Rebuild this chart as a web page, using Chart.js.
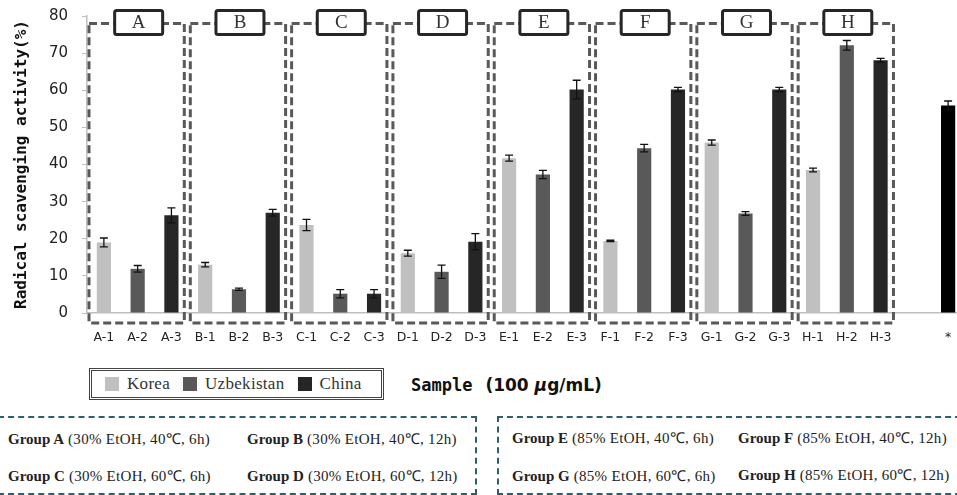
<!DOCTYPE html>
<html>
<head>
<meta charset="utf-8">
<script src="https://cdn.jsdelivr.net/npm/chart.js@4"></script>
<style>
  html, body { margin: 0; padding: 0; background: #fff; overflow: hidden; width: 957px; height: 495px; }
  #wrap { position: relative; width: 957px; height: 495px; overflow: hidden; }
  #chart { position: absolute; left: 0; top: 0; }
  .legend { position: absolute; left: 89px; top: 368px; width: 289px; height: 26px; border: 3px double #444;
            display: flex; align-items: center; font: 17px "Liberation Serif", serif; color: #333; letter-spacing: 0.3px; }
  .legend span.sw { display: inline-block; width: 14px; height: 14px; margin: 0 8px 0 13px; }
  .xtitle { position: absolute; left: 411px; top: 375px; font: bold 17px "DejaVu Sans Mono", monospace; color: #111; white-space: nowrap; }
  .xtitle b { font-family: "DejaVu Sans", sans-serif; margin-left: 13px; }
  .gbox { position: absolute; top: 416px; height: 75px; border: 2px dashed #2d5f6e; }
  .gtxt { position: absolute; font: 15px "Liberation Serif", serif; color: #222; white-space: nowrap; letter-spacing: 0.3px; }
  .gtxt b { letter-spacing: 0; }
</style>
</head>
<body>
<div id="wrap">
  <canvas id="chart" width="965" height="350"></canvas>
  <div class="legend" id="legend"></div>
  <div class="xtitle">Sample<b>(100 <i>μ</i>g/mL)</b></div>
  <div class="gbox" style="left:-2px;width:475px"></div>
  <div class="gbox" style="left:497px;width:480px"></div>
  <div id="groupText"></div>
</div>
<script>
// sample labels, one bar each; '' is the empty gap before the control (*)
const samples = ['A-1','A-2','A-3','B-1','B-2','B-3','C-1','C-2','C-3','D-1','D-2','D-3',
                 'E-1','E-2','E-3','F-1','F-2','F-3','G-1','G-2','G-3','H-1','H-2','H-3'];
const activity = [19.0, 11.9, 26.3, 13.0, 6.4, 27.0, 23.7, 5.2, 5.2, 16.1, 11.1, 19.2,
                  41.7, 37.3, 60.2, 19.4, 44.4, 60.2, 45.9, 26.8, 60.2, 38.5, 72.1, 68.1];
const errors = [1.2, 0.9, 2.0, 0.6, 0.3, 0.9, 1.5, 1.1, 1.1, 0.8, 1.8, 2.2,
                0.8, 1.1, 2.5, 0.2, 1.0, 0.6, 0.7, 0.5, 0.6, 0.5, 1.3, 0.5];
const controlLabel = '*';
const controlValue = 55.9;
const controlError = 1.2;
const countries = ['Korea', 'Uzbekistan', 'China'];
const groups = ['A','B','C','D','E','F','G','H'];
const conditions = ['30% EtOH, 40℃, 6h', '30% EtOH, 40℃, 12h', '30% EtOH, 60℃, 6h', '30% EtOH, 60℃, 12h',
                    '85% EtOH, 40℃, 6h', '85% EtOH, 40℃, 12h', '85% EtOH, 60℃, 6h', '85% EtOH, 60℃, 12h'];
const yTicks = [0, 10, 20, 30, 40, 50, 60, 70, 80];

const colors = ['#c0c0c0', '#595959', '#262626'];
const labels = samples.concat(['', controlLabel]);

const datasets = countries.map((name, c) => ({
  label: name,
  data: labels.map((l, i) => (i < samples.length && i % 3 === c) ? activity[i] : null),
  err: labels.map((l, i) => (i < samples.length && i % 3 === c) ? errors[i] : null),
  backgroundColor: colors[c]
}));
datasets.push({
  label: 'control',
  data: labels.map((l, i) => l === controlLabel ? controlValue : null),
  err: labels.map((l, i) => l === controlLabel ? controlError : null),
  backgroundColor: '#000'
});

// html legend + group descriptions
document.getElementById('legend').innerHTML = countries.map((n, c) =>
  `<span class="sw" style="background:${colors[c]}"></span>${n}`).join('');
const gpos = [[8, 428], [247, 428], [8, 465], [247, 465], [512, 427], [738, 427], [512, 465], [738, 464]];
document.getElementById('groupText').innerHTML = groups.map((g, i) =>
  `<div class="gtxt" style="left:${gpos[i][0]}px;top:${gpos[i][1]}px"><b>Group ${g}</b> (${conditions[i]})</div>`).join('');

const errorBars = {
  id: 'errorBars',
  afterDatasetsDraw(chart) {
    const ctx = chart.ctx, y = chart.scales.y;
    ctx.save();
    ctx.strokeStyle = '#111';
    ctx.lineWidth = 1.3;
    chart.data.datasets.forEach((ds, di) => {
      chart.getDatasetMeta(di).data.forEach((bar, i) => {
        if (ds.data[i] == null) return;
        const hi = y.getPixelForValue(ds.data[i] + ds.err[i]);
        const lo = y.getPixelForValue(ds.data[i] - ds.err[i]);
        ctx.beginPath();
        ctx.moveTo(bar.x, hi); ctx.lineTo(bar.x, lo);
        ctx.moveTo(bar.x - 4, hi); ctx.lineTo(bar.x + 4, hi);
        ctx.moveTo(bar.x - 4, lo); ctx.lineTo(bar.x + 4, lo);
        ctx.stroke();
      });
    });
    ctx.restore();
  }
};

const groupBoxes = {
  id: 'groupBoxes',
  afterDatasetsDraw(chart) {
    const ctx = chart.ctx, x = chart.scales.x, y = chart.scales.y;
    const cw = x.getPixelForValue(1) - x.getPixelForValue(0);
    const top = y.getPixelForValue(78);
    const bottom = chart.chartArea.bottom + 10;
    ctx.save();
    groups.forEach((g, k) => {
      const left = x.getPixelForValue(3 * k) - cw / 2 + 2;
      const right = x.getPixelForValue(3 * k + 2) + cw / 2 - 4;
      ctx.setLineDash([8, 4]);
      ctx.strokeStyle = '#595959';
      ctx.lineWidth = 3;
      ctx.strokeRect(left, top, right - left, bottom - top);
      const cx = x.getPixelForValue(3 * k + 1) + 1;
      ctx.setLineDash([]);
      ctx.fillStyle = '#fff';
      ctx.strokeStyle = '#262626';
      ctx.beginPath();
      ctx.roundRect(cx - 24, top - 13, 48, 24, 2);
      ctx.fill();
      ctx.stroke();
      ctx.fillStyle = '#333';
      ctx.font = '19px "Liberation Serif", serif';
      ctx.textAlign = 'center';
      ctx.textBaseline = 'middle';
      ctx.fillText(g, cx, top);
    });
    ctx.restore();
  }
};

new Chart(document.getElementById('chart'), {
  type: 'bar',
  data: { labels: labels, datasets: datasets },
  options: {
    responsive: false,
    devicePixelRatio: 1,
    animation: false,
    layout: { padding: { top: 16, right: 0, left: 0, bottom: 0 } },
    datasets: { bar: { categoryPercentage: 1, barPercentage: 0.42 } },
    scales: {
      x: {
        stacked: true,
        grid: { display: false, drawTicks: false },
        border: { color: '#bfbfbf', width: 1.5 },
        ticks: { padding: 17, maxRotation: 0, autoSkip: false, color: '#222', font: { family: 'DejaVu Sans', size: 12.5 } },
        afterFit: s => { s.height = 37; s.paddingLeft = 0; s.paddingRight = 0; }
      },
      y: {
        stacked: false,
        min: 0, max: 80,
        afterBuildTicks: s => { s.ticks = yTicks.map(v => ({ value: v })); },
        grid: { drawOnChartArea: false, drawTicks: true, tickLength: 5, color: '#bfbfbf' },
        border: { color: '#bfbfbf', width: 1.5 },
        ticks: { padding: 14, color: '#222', font: { family: 'DejaVu Sans', size: 15 } },
        title: { display: true, text: 'Radical scavenging activity(%)', color: '#111',
                 padding: { top: 12 }, font: { family: 'DejaVu Sans Mono', size: 16, weight: 'bold' } },
        afterFit: s => { s.width = 87; s.paddingTop = 0; s.paddingBottom = 0; }
      }
    },
    plugins: { legend: { display: false }, tooltip: { enabled: false } }
  },
  plugins: [errorBars, groupBoxes]
});
</script>
</body>
</html>
